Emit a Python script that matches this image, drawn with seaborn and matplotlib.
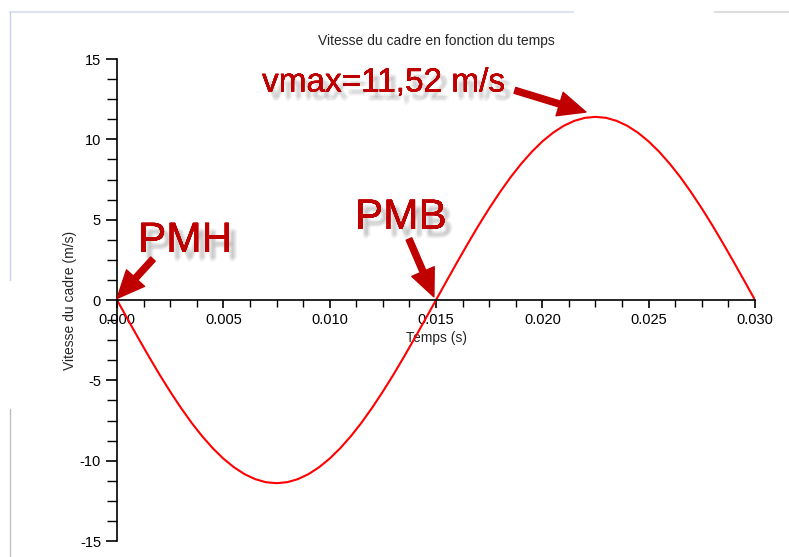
import numpy as np
import matplotlib
matplotlib.use('Agg')
import matplotlib.pyplot as plt
import matplotlib.patheffects as pe
from matplotlib.ticker import MultipleLocator, AutoMinorLocator, FormatStrFormatter
from matplotlib.lines import Line2D
import seaborn as sns

# Data (time in s, speed in m/s)
temps = np.linspace(0.0, 0.030, 61)
vitesse = [0, -1.19, -2.37, -3.52, -4.64, -5.70, -6.70, -7.63, -8.47, -9.22,
           -9.87, -10.41, -10.84, -11.15, -11.34, -11.40, -11.34, -11.15, -10.84, -10.41,
           -9.87, -9.22, -8.47, -7.63, -6.70, -5.70, -4.64, -3.52, -2.37, -1.19,
           0, 1.19, 2.37, 3.52, 4.64, 5.70, 6.70, 7.63, 8.47, 9.22,
           9.87, 10.41, 10.84, 11.15, 11.34, 11.40, 11.34, 11.15, 10.84, 10.41,
           9.87, 9.22, 8.47, 7.63, 6.70, 5.70, 4.64, 3.52, 2.37, 1.19, 0]

titre = "Vitesse du cadre en fonction du temps"
label_x = "Temps (s)"
label_y = "Vitesse du cadre (m/s)"

# Annotations: (text, text baseline pos, arrow tail, arrow head, font size)
annotations = [
    ("vmax=11,52 m/s", (0.00682, 12.98), (0.01871, 13.05), (0.02205, 11.70), 24),
    ("PMH", (0.00099, 2.99), (0.00169, 2.55), (0.0, 0.10), 30.5),
    ("PMB", (0.01119, 4.43), (0.01373, 3.80), (0.01490, 0.20), 30.5),
]

sns.set_style('white')
plt.rcParams['font.family'] = ['Liberation Sans', 'DejaVu Sans']
plt.rcParams['axes.unicode_minus'] = False

fig = plt.figure(figsize=(7.89, 5.57), dpi=100)
ax = fig.add_axes([0.1483, 0.0287, 0.8086, 0.8653])

sns.lineplot(x=temps, y=vitesse, color='#ff0000', linewidth=1.5, ax=ax)

ax.set_xlim(0, 0.030)
ax.set_ylim(-15, 15)

# axis style: x axis through zero
ax.spines['top'].set_visible(False)
ax.spines['right'].set_visible(False)
ax.spines['bottom'].set_position(('data', 0))
for s in ['left', 'bottom']:
    ax.spines[s].set_color('black')
    ax.spines[s].set_linewidth(1.2)

ax.xaxis.set_major_locator(MultipleLocator(0.005))
ax.xaxis.set_minor_locator(AutoMinorLocator(4))
ax.xaxis.set_major_formatter(FormatStrFormatter('%.3f'))
ax.yaxis.set_major_locator(MultipleLocator(5))
ax.yaxis.set_minor_locator(AutoMinorLocator(4))

ax.tick_params(axis='both', which='both', direction='out', colors='black', labelsize=10.5)
ax.tick_params(axis='x', which='major', length=6, width=1.2, bottom=True)
ax.tick_params(axis='x', which='minor', length=5, width=1, bottom=True)
ax.tick_params(axis='y', which='major', length=8, width=1.2, left=True)
ax.tick_params(axis='y', which='minor', length=7, width=1, left=True)

ax.set_title(titre, fontsize=10, pad=10)
ax.set_xlabel(label_x, fontsize=10)
ax.xaxis.set_label_coords(0.5, 0.435)
ax.set_ylabel(label_y, fontsize=10)
ax.yaxis.set_label_coords(-0.062, 0.5)

rouge = '#c00000'
# soft blurred-looking shadow made of a few faint offset copies
ombre = [pe.withSimplePatchShadow(offset=o, shadow_rgbFace='#555555', alpha=0.06)
         for o in [(3, -4), (4, -5), (5, -6), (3, -6), (5, -4), (4, -7), (6, -5)]]
for txt, pos, tail, head, size in annotations:
    ax.text(pos[0], pos[1], txt, color=rouge, fontsize=size, ha='left', va='baseline',
            path_effects=ombre)
    ax.annotate('', xy=head, xytext=tail,
                arrowprops=dict(arrowstyle='simple,head_length=0.9,head_width=0.8,tail_width=0.2',
                                color=rouge, mutation_scale=22, shrinkA=0, shrinkB=0))

# faint window borders from the screenshot
fig.add_artist(Line2D([10/789, 573/789], [1 - 12/557] * 2, color='#dde3f0', lw=1.5))
fig.add_artist(Line2D([715/789, 1.0], [1 - 12/557] * 2, color='#dddddd', lw=1.5))
fig.add_artist(Line2D([10/789] * 2, [1 - 12/557, 1 - 280/557], color='#c8d0ec', lw=1))
fig.add_artist(Line2D([10/789] * 2, [1 - 409/557, 0], color='#c0c0c0', lw=1))

fig.savefig('out.png', dpi=100)
